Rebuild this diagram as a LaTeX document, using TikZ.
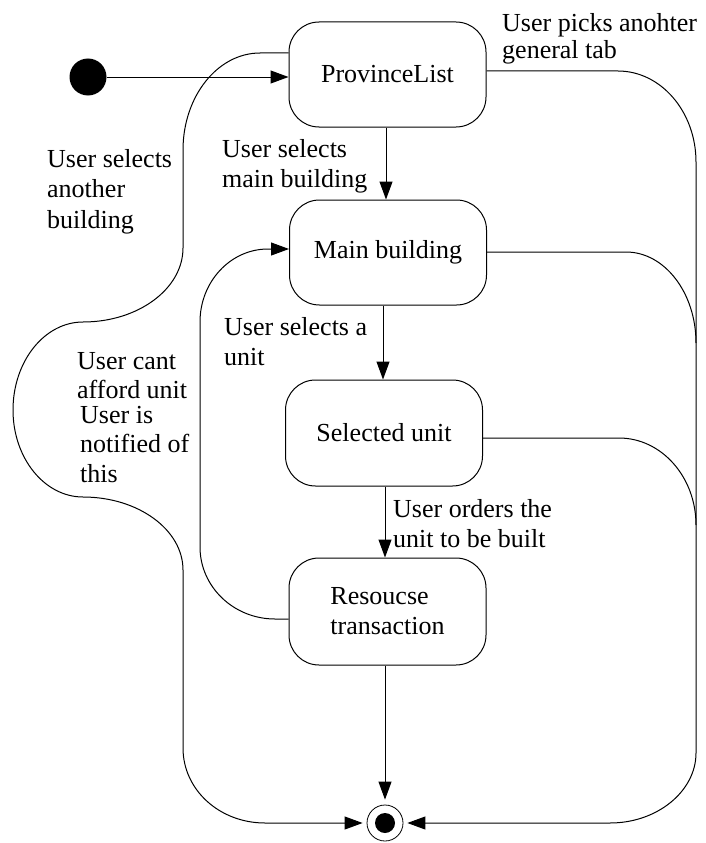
\documentclass[tikz,border=0pt]{standalone}
\usepackage{fontspec}
\setmainfont{Liberation Serif}
\usetikzlibrary{arrows.meta}
\newcommand\diagfont{\fontsize{26}{30}\selectfont}
\tikzset{
  statebox/.style={draw, line width=1pt, rounded corners=30pt, inner sep=0pt,
    minimum width=197pt, minimum height=105pt, align=left, font=\diagfont},
  % labels are placed by the baseline of their last line
  lbl/.style={anchor=base west, inner sep=0pt, align=left, font=\diagfont},
  arr/.style={-{Triangle[length=18pt,width=13pt]}},
  conn/.style={line width=1pt},
}
\begin{document}
\begin{tikzpicture}[x=1pt, y=-1pt]
\useasboundingbox (0,0) rectangle (705,843);

% states
\node[circle, fill, minimum size=37pt, inner sep=0pt] (ini) at (88,77) {};
\node[statebox] (pl) at (387.5,74.5) {ProvinceList};
\node[statebox] (mb) at (388,252.5) {Main building};
\node[statebox, minimum height=106pt] (su) at (384,433) {Selected unit};
\node[statebox, minimum height=107pt] (rt) at (387.5,611.5) {Resoucse\\transaction};
\node[circle, draw, line width=0.8pt, minimum size=36pt, inner sep=0pt] (fin) at (385,823) {};
\node[circle, fill, minimum size=20pt, inner sep=0pt] (fincore) at (fin) {};

% transition labels
\node[lbl, font=\fontsize{26}{27}\selectfont] (t1) at (502,59) {User picks anohter\\general tab};
\node[lbl, font=\fontsize{26}{30.5}\selectfont] (t2) at (47,228) {User selects\\another\\building};
\node[lbl] (t3) at (222,187) {User selects\\main building};
\node[lbl] (t4) at (224,365) {User selects a\\unit};
\node[lbl, font=\fontsize{26}{29}\selectfont] (t5) at (77,398) {User cant\\afford unit};
\node[lbl, font=\fontsize{26}{29.5}\selectfont] (t6) at (80,482) {User is\\notified of\\this};
\node[lbl] (t7) at (393,547) {User orders the\\unit to be built};

% straight transitions
\draw[conn, arr] (ini) -- (pl.west |- ini);
\draw[conn, arr] (pl.south -| 386,0) -- (mb.north -| 386,0);
\draw[conn, arr] (mb.south -| 383,0) -- (su.north -| 383,0);
\draw[conn, arr] (su.south -| 385,0) -- (rt.north -| 385,0);
\draw[conn, arr, shorten >=5pt] (rt.south -| fin) -- (fin);

% left loop from ProvinceList down to the final state
\draw[conn, arr, shorten >=4pt] (pl.west |- 0,53) -- (260,53)
  .. controls (217.5,53) and (183,96.5) .. (183,150)
  -- (183,248)
  .. controls (183,288.8) and (138.2,322) .. (83,322)
  .. controls (44.4,322) and (13,361.4) .. (13,410)
  .. controls (13,458) and (44.4,497) .. (83,497)
  .. controls (138.2,497) and (183,529.7) .. (183,570)
  -- (183,748)
  .. controls (183,790) and (219.7,823) .. (265,823)
  -- (fin);

% resource transaction back to main building
\draw[conn, arr] (rt.west |- 0,619) -- (275,619)
  .. controls (233.6,619) and (200,586.7) .. (200,547)
  -- (200,322)
  .. controls (200,281.7) and (230.5,249) .. (268,249)
  -- (mb.west |- 0,249);

% right side: general tab switch from every screen
\draw[conn, arr, shorten >=4pt] (pl.east |- 0,71) -- (618,71)
  .. controls (661,71) and (696,111.8) .. (696,162)
  -- (696,753)
  .. controls (696,791) and (657.5,823) .. (610,823)
  -- (fin);
\draw[conn] (mb.east |- 0,252) -- (626,252)
  .. controls (664.6,252) and (696,292.8) .. (696,343);
\draw[conn] (su.east |- 0,438) -- (619,438)
  .. controls (661.5,438) and (696,477) .. (696,525);
\end{tikzpicture}
\end{document}
